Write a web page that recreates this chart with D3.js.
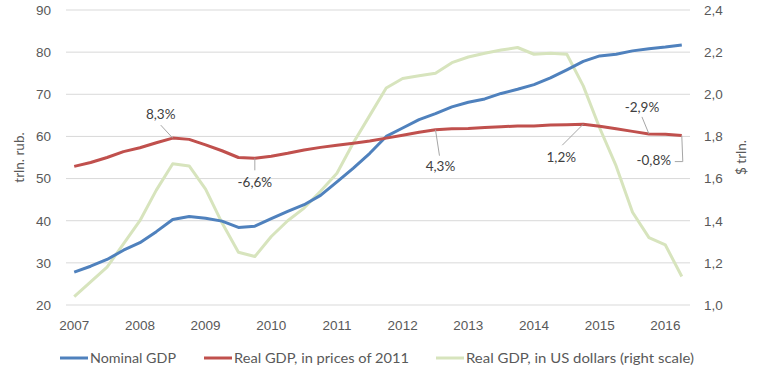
<!DOCTYPE html>
<html>
<head>
<meta charset="utf-8">
<script src="https://cdn.jsdelivr.net/npm/d3@7"></script>
<style>
  body { margin: 0; background: #fff; }
  svg { display: block; font-family: Lato, "Open Sans", sans-serif; }
</style>
</head>
<body>
<svg id="chart"></svg>
<script>
// quarterly data, 2007 Q1 .. 2016 Q2
const quarters = [
  "2007 Q1", "2007 Q2", "2007 Q3", "2007 Q4",
  "2008 Q1", "2008 Q2", "2008 Q3", "2008 Q4",
  "2009 Q1", "2009 Q2", "2009 Q3", "2009 Q4",
  "2010 Q1", "2010 Q2", "2010 Q3", "2010 Q4",
  "2011 Q1", "2011 Q2", "2011 Q3", "2011 Q4",
  "2012 Q1", "2012 Q2", "2012 Q3", "2012 Q4",
  "2013 Q1", "2013 Q2", "2013 Q3", "2013 Q4",
  "2014 Q1", "2014 Q2", "2014 Q3", "2014 Q4",
  "2015 Q1", "2015 Q2", "2015 Q3", "2015 Q4",
  "2016 Q1", "2016 Q2"
];

// trln. rub.
const nominalGdp = [
  27.8, 29.2, 30.8, 33.0, 34.8, 37.4, 40.3, 41.0, 40.6, 39.9,
  38.4, 38.7, 40.5, 42.2, 43.8, 46.0, 49.2, 52.5, 56.0, 60.0,
  62.0, 64.0, 65.4, 67.0, 68.1, 68.9, 70.2, 71.2, 72.3, 73.9,
  75.8, 77.8, 79.1, 79.5, 80.3, 80.8, 81.2, 81.7
];

// trln. rub., prices of 2011
const realGdp = [
  52.9, 53.8, 55.0, 56.4, 57.3, 58.5, 59.6, 59.3, 58.0, 56.6,
  55.0, 54.8, 55.3, 56.0, 56.8, 57.4, 57.9, 58.4, 58.9, 59.6,
  60.3, 61.0, 61.6, 61.8, 61.9, 62.1, 62.3, 62.5, 62.5, 62.7,
  62.8, 62.9, 62.4, 61.8, 61.2, 60.6, 60.5, 60.2
];

// $ trln. (right scale)
const realGdpUsd = [
  1.04, 1.11, 1.18, 1.29, 1.40, 1.545, 1.67, 1.66, 1.55, 1.39,
  1.25, 1.23, 1.325, 1.40, 1.46, 1.54, 1.625, 1.77, 1.90, 2.03,
  2.075, 2.088, 2.10, 2.15, 2.177, 2.195, 2.21, 2.222, 2.19, 2.195,
  2.19, 2.04, 1.84, 1.66, 1.44, 1.32, 1.285, 1.135
];

const leftTicks = [20, 30, 40, 50, 60, 70, 80, 90];
const rightTicks = [1.0, 1.2, 1.4, 1.6, 1.8, 2.0, 2.2, 2.4];

// growth notes on the real GDP line
const noteIndex = [6, 11, 22, 31, 35, 37];
const noteText = ["8,3%", "-6,6%", "4,3%", "1,2%", "-2,9%", "-0,8%"];

const seriesNames = ["Nominal GDP", "Real GDP, in prices of 2011", "Real GDP, in US dollars (right scale)"];
const colors = ["#4f81bd", "#c0504d", "#d7e4bd"];

const width = 763, height = 381;
const margin = { top: 10, right: 73, bottom: 76, left: 66 };

const svg = d3.select("#chart").attr("width", width).attr("height", height);

const ru = d3.formatLocale({ decimal: ",", thousands: " ", grouping: [3], currency: ["", ""] });

const x = d3.scaleBand()
  .domain(quarters)
  .range([margin.left, width - margin.right]);
const cx = q => x(q) + x.bandwidth() / 2;

const yLeft = d3.scaleLinear().domain([20, 90]).range([height - margin.bottom, margin.top]);
const yRight = d3.scaleLinear().domain([1.0, 2.4]).range([height - margin.bottom, margin.top]);

// gridlines
svg.append("g")
  .selectAll("line")
  .data(leftTicks)
  .join("line")
  .attr("x1", margin.left)
  .attr("x2", width - margin.right)
  .attr("y1", d => yLeft(d))
  .attr("y2", d => yLeft(d))
  .attr("stroke", "#d9d9d9")
  .attr("stroke-width", 1);

const tickStyle = g => {
  g.select(".domain").remove();
  g.selectAll(".tick line").remove();
  g.selectAll(".tick text").attr("fill", "#595959").attr("font-size", 13.5);
};

svg.append("g")
  .attr("transform", `translate(${margin.left},0)`)
  .call(d3.axisLeft(yLeft).tickValues(leftTicks).tickSize(0).tickPadding(15))
  .call(tickStyle);

svg.append("g")
  .attr("transform", `translate(${width - margin.right},0)`)
  .call(d3.axisRight(yRight).tickValues(rightTicks).tickSize(0).tickPadding(14).tickFormat(ru.format(".1f")))
  .call(tickStyle);

svg.append("g")
  .attr("transform", `translate(0,${height - margin.bottom})`)
  .call(d3.axisBottom(x)
    .tickValues(quarters.filter(q => q.endsWith("Q1")))
    .tickFormat(q => q.slice(0, 4))
    .tickSize(0).tickPadding(15))
  .call(tickStyle);

// axis titles
svg.append("text")
  .attr("transform", `translate(24,${(margin.top + height - margin.bottom) / 2}) rotate(-90)`)
  .attr("text-anchor", "middle")
  .attr("fill", "#595959")
  .attr("font-size", 13.5)
  .text("trln. rub.");

svg.append("text")
  .attr("transform", `translate(746,${(margin.top + height - margin.bottom) / 2}) rotate(-90)`)
  .attr("text-anchor", "middle")
  .attr("fill", "#595959")
  .attr("font-size", 13.5)
  .text("$ trln.");

// lines
const lineLeft = d3.line().x((d, i) => cx(quarters[i])).y(d => yLeft(d));
const lineRight = d3.line().x((d, i) => cx(quarters[i])).y(d => yRight(d));

svg.append("path")
  .datum(realGdpUsd)
  .attr("d", lineRight)
  .attr("fill", "none")
  .attr("stroke", colors[2])
  .attr("stroke-width", 3)
  .attr("stroke-linejoin", "round");

svg.append("path")
  .datum(nominalGdp)
  .attr("d", lineLeft)
  .attr("fill", "none")
  .attr("stroke", colors[0])
  .attr("stroke-width", 3)
  .attr("stroke-linejoin", "round");

svg.append("path")
  .datum(realGdp)
  .attr("d", lineLeft)
  .attr("fill", "none")
  .attr("stroke", colors[1])
  .attr("stroke-width", 3)
  .attr("stroke-linejoin", "round");

// data labels with leader lines (offsets from the point)
const labelOffsets = [[-12, -24], [0, 24], [5, 37], [-22, 33], [-7, -27], [-28, 25]];
const leaderPaths = [
  [[0, 0], [-12, -13]],
  [[0, 0], [0, 12]],
  [[0, 0], [4, 26]],
  [[0, 0], [-21, 21]],
  [[0, 0], [-7, -17]],
  [[0, 0], [1, 26], [-7, 26]]
];

const notes = svg.append("g");
noteIndex.forEach((idx, k) => {
  const px = cx(quarters[idx]);
  const py = yLeft(realGdp[idx]);
  notes.append("path")
    .attr("d", d3.line()(leaderPaths[k].map(p => [px + p[0], py + p[1]])))
    .attr("fill", "none")
    .attr("stroke", "#a6a6a6")
    .attr("stroke-width", 1);
  notes.append("text")
    .attr("x", px + labelOffsets[k][0])
    .attr("y", py + labelOffsets[k][1])
    .attr("dy", "0.35em")
    .attr("text-anchor", "middle")
    .attr("fill", "#404040")
    .attr("font-size", 13.5)
    .text(noteText[k]);
});

// legend
const legendX = [60, 204, 436];
const legendW = [86, 175, 228];
const legend = svg.append("g").attr("transform", "translate(0,358)");
seriesNames.forEach((name, i) => {
  legend.append("line")
    .attr("x1", legendX[i]).attr("x2", legendX[i] + 28)
    .attr("y1", 0).attr("y2", 0)
    .attr("stroke", colors[i])
    .attr("stroke-width", 3);
  legend.append("text")
    .attr("x", legendX[i] + 30)
    .attr("y", 0)
    .attr("dy", "0.35em")
    .attr("fill", "#595959")
    .attr("font-size", 14)
    .attr("textLength", legendW[i])
    .attr("lengthAdjust", "spacingAndGlyphs")
    .text(name);
});
</script>
</body>
</html>
